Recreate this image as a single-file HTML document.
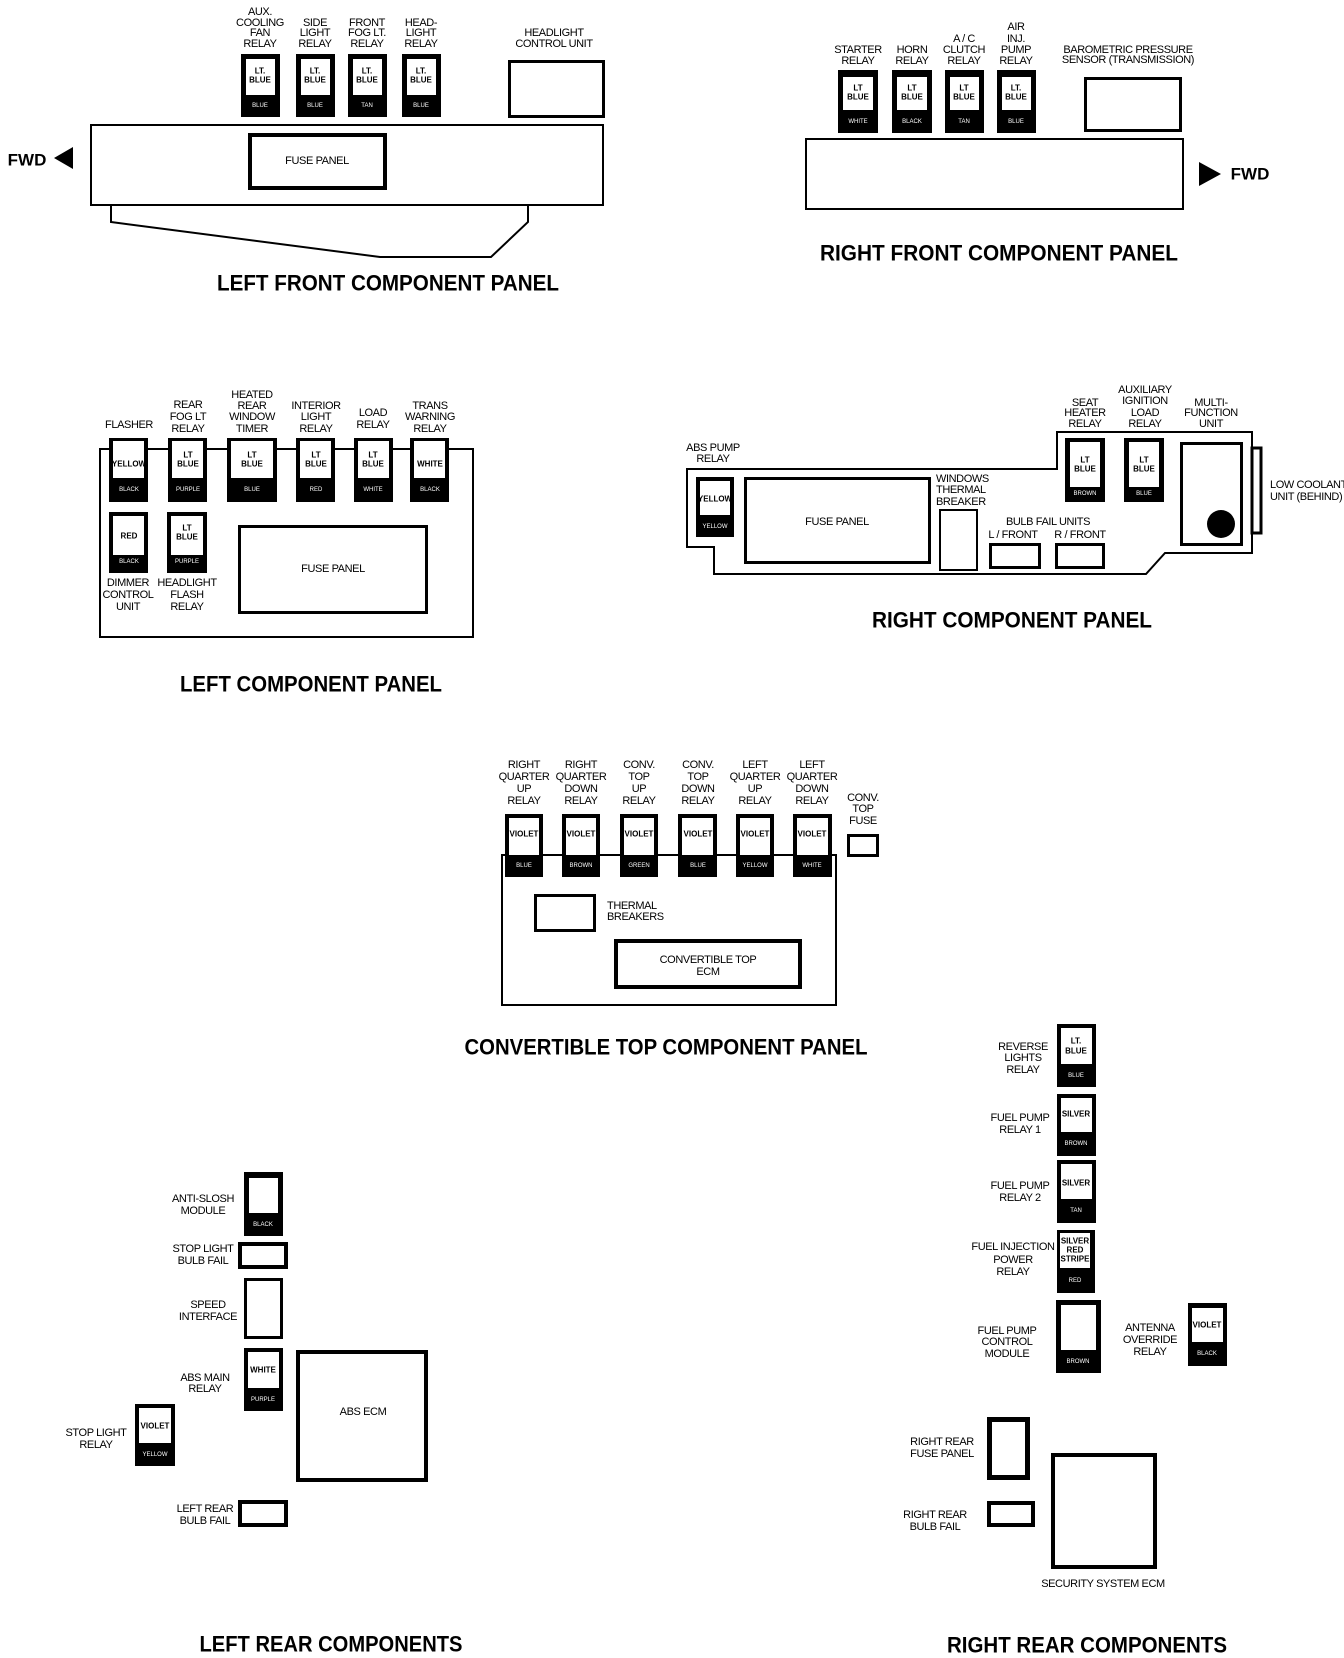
<!DOCTYPE html>
<html><head><meta charset="utf-8"><style>
html,body{margin:0;padding:0;background:#fff}
svg{display:block}
text{font-family:"Liberation Sans Narrow","Liberation Sans",sans-serif;fill:#000;dominant-baseline:central;text-anchor:middle}
.l{font-size:11px;letter-spacing:-0.4px}
.t{font-size:22px;font-weight:bold;font-family:"Liberation Sans",sans-serif}
.i{font-size:8px;font-weight:bold}
.w{font-size:6px;fill:#fff}
.b{fill:#000}
.o{fill:none;stroke:#000}
</style></head><body>
<svg width="1344" height="1658" viewBox="0 0 1344 1658" xmlns="http://www.w3.org/2000/svg">

<!-- LEFT FRONT -->
<g class="l">
<text x="260" y="12">AUX.</text><text x="260" y="23">COOLING</text><text x="260" y="33">FAN</text><text x="260" y="44">RELAY</text>
<text x="315" y="23">SIDE</text><text x="315" y="33">LIGHT</text><text x="315" y="44">RELAY</text>
<text x="367" y="23">FRONT</text><text x="367" y="33">FOG LT.</text><text x="367" y="44">RELAY</text>
<text x="421" y="23">HEAD-</text><text x="421" y="33">LIGHT</text><text x="421" y="44">RELAY</text>
<text x="554" y="33">HEADLIGHT</text><text x="554" y="44">CONTROL UNIT</text>
</g>
<rect class="b" x="241" y="54" width="39" height="63"/><rect fill="#fff" x="246" y="59" width="29" height="36"/>
<rect class="b" x="296" y="54" width="39" height="63"/><rect fill="#fff" x="301" y="59" width="29" height="36"/>
<rect class="b" x="348" y="54" width="39" height="63"/><rect fill="#fff" x="353" y="59" width="29" height="36"/>
<rect class="b" x="402" y="54" width="39" height="63"/><rect fill="#fff" x="407" y="59" width="29" height="36"/>
<text class="i" x="260" y="71">LT.</text><text class="i" x="260" y="80">BLUE</text><text class="w" x="260" y="106">BLUE</text>
<text class="i" x="315" y="71">LT.</text><text class="i" x="315" y="80">BLUE</text><text class="w" x="315" y="106">BLUE</text>
<text class="i" x="367" y="71">LT.</text><text class="i" x="367" y="80">BLUE</text><text class="w" x="367" y="106">TAN</text>
<text class="i" x="421" y="71">LT.</text><text class="i" x="421" y="80">BLUE</text><text class="w" x="421" y="106">BLUE</text>
<rect class="o" stroke-width="3" x="509.5" y="61.5" width="94" height="55"/>
<rect class="o" stroke-width="2" x="91" y="125" width="512" height="80"/>
<rect class="o" stroke-width="4" x="250" y="135" width="135" height="53"/>
<text class="l" x="317" y="161">FUSE PANEL</text>
<polyline class="o" stroke-width="2" points="111,205 111,222 380,257 491,257 528,222 528,205"/>
<text x="27" y="160" style="font-size:17px;font-weight:bold;font-family:'Liberation Sans',sans-serif">FWD</text>
<polygon class="b" points="54,158 73,147 73,169"/>
<text class="t" x="388" y="283" textLength="342" lengthAdjust="spacingAndGlyphs">LEFT FRONT COMPONENT PANEL</text>

<!-- RIGHT FRONT -->
<g class="l">
<text x="858" y="50">STARTER</text><text x="858" y="61">RELAY</text>
<text x="912" y="50">HORN</text><text x="912" y="61">RELAY</text>
<text x="964" y="39">A / C</text><text x="964" y="50">CLUTCH</text><text x="964" y="61">RELAY</text>
<text x="1016" y="27">AIR</text><text x="1016" y="39">INJ.</text><text x="1016" y="50">PUMP</text><text x="1016" y="61">RELAY</text>
<text x="1128" y="50">BAROMETRIC PRESSURE</text><text x="1128" y="60">SENSOR (TRANSMISSION)</text>
</g>
<rect class="b" x="838" y="70" width="40" height="63"/><rect fill="#fff" x="843" y="77" width="30" height="33"/>
<rect class="b" x="892" y="70" width="40" height="63"/><rect fill="#fff" x="897" y="77" width="30" height="33"/>
<rect class="b" x="945" y="70" width="39" height="63"/><rect fill="#fff" x="950" y="77" width="29" height="33"/>
<rect class="b" x="997" y="70" width="39" height="63"/><rect fill="#fff" x="1002" y="77" width="29" height="33"/>
<text class="i" x="858" y="88">LT</text><text class="i" x="858" y="97">BLUE</text><text class="w" x="858" y="122">WHITE</text>
<text class="i" x="912" y="88">LT</text><text class="i" x="912" y="97">BLUE</text><text class="w" x="912" y="122">BLACK</text>
<text class="i" x="964" y="88">LT</text><text class="i" x="964" y="97">BLUE</text><text class="w" x="964" y="122">TAN</text>
<text class="i" x="1016" y="88">LT.</text><text class="i" x="1016" y="97">BLUE</text><text class="w" x="1016" y="122">BLUE</text>
<rect class="o" stroke-width="3" x="1085.5" y="78.5" width="95" height="52"/>
<rect class="o" stroke-width="2" x="806" y="139" width="377" height="70"/>
<polygon class="b" points="1199,162 1221,174 1199,186"/>
<text x="1250" y="174" style="font-size:17px;font-weight:bold;font-family:'Liberation Sans',sans-serif">FWD</text>
<text class="t" x="999" y="253" textLength="358" lengthAdjust="spacingAndGlyphs">RIGHT FRONT COMPONENT PANEL</text>

<!-- LEFT COMPONENT PANEL -->
<rect class="o" stroke-width="2" x="100" y="449" width="373" height="188"/>
<g class="l">
<text x="129" y="425">FLASHER</text>
<text x="188" y="405">REAR</text><text x="188" y="417">FOG LT</text><text x="188" y="429">RELAY</text>
<text x="252" y="395">HEATED</text><text x="252" y="406">REAR</text><text x="252" y="417">WINDOW</text><text x="252" y="429">TIMER</text>
<text x="316" y="406">INTERIOR</text><text x="316" y="417">LIGHT</text><text x="316" y="429">RELAY</text>
<text x="373" y="413">LOAD</text><text x="373" y="425">RELAY</text>
<text x="430" y="406">TRANS</text><text x="430" y="417">WARNING</text><text x="430" y="429">RELAY</text>
<text x="128" y="583">DIMMER</text><text x="128" y="595">CONTROL</text><text x="128" y="607">UNIT</text>
<text x="187" y="583">HEADLIGHT</text><text x="187" y="595">FLASH</text><text x="187" y="607">RELAY</text>
</g>
<rect class="b" x="109" y="438" width="39" height="64"/><rect fill="#fff" x="113" y="441" width="31" height="37"/>
<rect class="b" x="168" y="438" width="39" height="64"/><rect fill="#fff" x="172" y="441" width="31" height="37"/>
<rect class="b" x="227" y="438" width="50" height="64"/><rect fill="#fff" x="231" y="441" width="42" height="37"/>
<rect class="b" x="296" y="438" width="39" height="64"/><rect fill="#fff" x="300" y="441" width="31" height="37"/>
<rect class="b" x="354" y="438" width="39" height="64"/><rect fill="#fff" x="358" y="441" width="31" height="37"/>
<rect class="b" x="410" y="438" width="39" height="64"/><rect fill="#fff" x="414" y="441" width="31" height="37"/>
<text class="i" x="129" y="464">YELLOW</text><text class="w" x="129" y="490">BLACK</text>
<text class="i" x="188" y="455">LT</text><text class="i" x="188" y="464">BLUE</text><text class="w" x="188" y="490">PURPLE</text>
<text class="i" x="252" y="455">LT</text><text class="i" x="252" y="464">BLUE</text><text class="w" x="252" y="490">BLUE</text>
<text class="i" x="316" y="455">LT</text><text class="i" x="316" y="464">BLUE</text><text class="w" x="316" y="490">RED</text>
<text class="i" x="373" y="455">LT</text><text class="i" x="373" y="464">BLUE</text><text class="w" x="373" y="490">WHITE</text>
<text class="i" x="430" y="464">WHITE</text><text class="w" x="430" y="490">BLACK</text>
<rect class="b" x="109" y="512" width="39" height="61"/><rect fill="#fff" x="113" y="516" width="31" height="39"/>
<rect class="b" x="167" y="512" width="40" height="61"/><rect fill="#fff" x="171" y="516" width="32" height="39"/>
<text class="i" x="129" y="536">RED</text><text class="w" x="129" y="562">BLACK</text>
<text class="i" x="187" y="528">LT</text><text class="i" x="187" y="537">BLUE</text><text class="w" x="187" y="562">PURPLE</text>
<rect class="o" stroke-width="3" x="239.5" y="526.5" width="187" height="86"/>
<text class="l" x="333" y="569">FUSE PANEL</text>
<text class="t" x="311" y="684" textLength="262" lengthAdjust="spacingAndGlyphs">LEFT COMPONENT PANEL</text>

<!-- RIGHT COMPONENT PANEL -->
<polygon class="o" stroke-width="2" points="687,469 687,547 714,547 714,574 1146,574 1165,553 1252,553 1252,432 1057,432 1057,469"/>
<g class="l">
<text x="713" y="448">ABS PUMP</text><text x="713" y="459">RELAY</text>
<text x="936" y="479" style="text-anchor:start">WINDOWS</text><text x="936" y="490" style="text-anchor:start">THERMAL</text><text x="936" y="502" style="text-anchor:start">BREAKER</text>
<text x="1048" y="522">BULB FAIL UNITS</text><text x="1013" y="535">L / FRONT</text><text x="1080" y="535">R / FRONT</text>
<text x="1085" y="403">SEAT</text><text x="1085" y="413">HEATER</text><text x="1085" y="424">RELAY</text>
<text x="1145" y="390">AUXILIARY</text><text x="1145" y="401">IGNITION</text><text x="1145" y="413">LOAD</text><text x="1145" y="424">RELAY</text>
<text x="1211" y="403">MULTI-</text><text x="1211" y="413">FUNCTION</text><text x="1211" y="424">UNIT</text>
<text x="1270" y="485" style="text-anchor:start">LOW COOLANT</text><text x="1270" y="497" style="text-anchor:start">UNIT (BEHIND)</text>
</g>
<rect class="b" x="696" y="477" width="38" height="60"/><rect fill="#fff" x="700" y="481" width="30" height="34"/>
<text class="i" x="715" y="499">YELLOW</text><text class="w" x="715" y="527">YELLOW</text>
<rect class="o" stroke-width="3" x="745.5" y="478.5" width="184" height="84"/>
<text class="l" x="837" y="522">FUSE PANEL</text>
<rect class="o" stroke-width="2" x="940" y="510" width="37" height="60"/>
<rect class="o" stroke-width="3" x="990.5" y="544.5" width="49" height="23"/>
<rect class="o" stroke-width="3" x="1056.5" y="544.5" width="47" height="23"/>
<rect class="b" x="1065" y="438" width="40" height="64"/><rect fill="#fff" x="1070" y="442" width="30" height="45"/>
<rect class="b" x="1124" y="438" width="40" height="64"/><rect fill="#fff" x="1129" y="442" width="30" height="45"/>
<text class="i" x="1085" y="460">LT</text><text class="i" x="1085" y="469">BLUE</text><text class="w" x="1085" y="494">BROWN</text>
<text class="i" x="1144" y="460">LT</text><text class="i" x="1144" y="469">BLUE</text><text class="w" x="1144" y="494">BLUE</text>
<rect class="o" stroke-width="3" x="1181.5" y="443.5" width="60" height="101"/>
<circle class="b" cx="1221" cy="524" r="14"/>
<rect class="o" stroke-width="3" x="1252" y="448" width="9" height="85"/>
<text class="t" x="1012" y="620" textLength="280" lengthAdjust="spacingAndGlyphs">RIGHT COMPONENT PANEL</text>

<!-- CONVERTIBLE TOP -->
<g class="l">
<text x="524" y="765">RIGHT</text><text x="524" y="777">QUARTER</text><text x="524" y="789">UP</text><text x="524" y="801">RELAY</text>
<text x="581" y="765">RIGHT</text><text x="581" y="777">QUARTER</text><text x="581" y="789">DOWN</text><text x="581" y="801">RELAY</text>
<text x="639" y="765">CONV.</text><text x="639" y="777">TOP</text><text x="639" y="789">UP</text><text x="639" y="801">RELAY</text>
<text x="698" y="765">CONV.</text><text x="698" y="777">TOP</text><text x="698" y="789">DOWN</text><text x="698" y="801">RELAY</text>
<text x="755" y="765">LEFT</text><text x="755" y="777">QUARTER</text><text x="755" y="789">UP</text><text x="755" y="801">RELAY</text>
<text x="812" y="765">LEFT</text><text x="812" y="777">QUARTER</text><text x="812" y="789">DOWN</text><text x="812" y="801">RELAY</text>
<text x="863" y="798">CONV.</text><text x="863" y="809">TOP</text><text x="863" y="821">FUSE</text>
<text x="607" y="906" style="text-anchor:start">THERMAL</text><text x="607" y="917" style="text-anchor:start">BREAKERS</text>
<text x="708" y="960">CONVERTIBLE TOP</text><text x="708" y="972">ECM</text>
</g>
<rect class="o" stroke-width="2" x="502" y="855" width="334" height="150"/>
<rect class="b" x="505" y="814" width="38" height="63"/><rect fill="#fff" x="509" y="818" width="30" height="37"/>
<rect class="b" x="562" y="814" width="38" height="63"/><rect fill="#fff" x="566" y="818" width="30" height="37"/>
<rect class="b" x="620" y="814" width="38" height="63"/><rect fill="#fff" x="624" y="818" width="30" height="37"/>
<rect class="b" x="678" y="814" width="39" height="63"/><rect fill="#fff" x="682" y="818" width="31" height="37"/>
<rect class="b" x="736" y="814" width="38" height="63"/><rect fill="#fff" x="740" y="818" width="30" height="37"/>
<rect class="b" x="793" y="814" width="39" height="63"/><rect fill="#fff" x="797" y="818" width="31" height="37"/>
<text class="i" x="524" y="834">VIOLET</text><text class="w" x="524" y="866">BLUE</text>
<text class="i" x="581" y="834">VIOLET</text><text class="w" x="581" y="866">BROWN</text>
<text class="i" x="639" y="834">VIOLET</text><text class="w" x="639" y="866">GREEN</text>
<text class="i" x="698" y="834">VIOLET</text><text class="w" x="698" y="866">BLUE</text>
<text class="i" x="755" y="834">VIOLET</text><text class="w" x="755" y="866">YELLOW</text>
<text class="i" x="812" y="834">VIOLET</text><text class="w" x="812" y="866">WHITE</text>
<rect class="o" stroke-width="3" x="848.5" y="835.5" width="29" height="20"/>
<rect class="o" stroke-width="3" x="535.5" y="895.5" width="59" height="35"/>
<rect class="o" stroke-width="4" x="616" y="941" width="184" height="46"/>
<text class="t" x="666" y="1047" textLength="403" lengthAdjust="spacingAndGlyphs">CONVERTIBLE TOP COMPONENT PANEL</text>

<!-- LEFT REAR -->
<g class="l">
<text x="203" y="1199">ANTI-SLOSH</text><text x="203" y="1211">MODULE</text>
<text x="203" y="1249">STOP LIGHT</text><text x="203" y="1261">BULB FAIL</text>
<text x="208" y="1305">SPEED</text><text x="208" y="1317">INTERFACE</text>
<text x="205" y="1378">ABS MAIN</text><text x="205" y="1389">RELAY</text>
<text x="96" y="1433">STOP LIGHT</text><text x="96" y="1445">RELAY</text>
<text x="205" y="1509">LEFT REAR</text><text x="205" y="1521">BULB FAIL</text>
<text x="363" y="1412">ABS ECM</text>
</g>
<rect class="b" x="244" y="1172" width="39" height="64"/><rect fill="#fff" x="249" y="1178" width="29" height="35"/>
<text class="w" x="263" y="1225">BLACK</text>
<rect class="o" stroke-width="4" x="240" y="1244" width="46" height="23"/>
<rect class="o" stroke-width="3" x="245.5" y="1279.5" width="36" height="58"/>
<rect class="b" x="244" y="1348" width="39" height="63"/><rect fill="#fff" x="248" y="1352" width="31" height="36"/>
<text class="i" x="263" y="1370">WHITE</text><text class="w" x="263" y="1400">PURPLE</text>
<rect class="o" stroke-width="4" x="298" y="1352" width="128" height="128"/>
<rect class="b" x="135" y="1404" width="40" height="62"/><rect fill="#fff" x="139" y="1408" width="32" height="35"/>
<text class="i" x="155" y="1426">VIOLET</text><text class="w" x="155" y="1455">YELLOW</text>
<rect class="o" stroke-width="4" x="240" y="1502" width="46" height="23"/>
<text class="t" x="331" y="1644" textLength="263" lengthAdjust="spacingAndGlyphs">LEFT REAR COMPONENTS</text>

<!-- RIGHT REAR -->
<g class="l">
<text x="1023" y="1047">REVERSE</text><text x="1023" y="1058">LIGHTS</text><text x="1023" y="1070">RELAY</text>
<text x="1020" y="1118">FUEL PUMP</text><text x="1020" y="1130">RELAY 1</text>
<text x="1020" y="1186">FUEL PUMP</text><text x="1020" y="1198">RELAY 2</text>
<text x="1013" y="1247">FUEL INJECTION</text><text x="1013" y="1260">POWER</text><text x="1013" y="1272">RELAY</text>
<text x="1007" y="1331">FUEL PUMP</text><text x="1007" y="1342">CONTROL</text><text x="1007" y="1354">MODULE</text>
<text x="1150" y="1328">ANTENNA</text><text x="1150" y="1340">OVERRIDE</text><text x="1150" y="1352">RELAY</text>
<text x="942" y="1442">RIGHT REAR</text><text x="942" y="1454">FUSE PANEL</text>
<text x="935" y="1515">RIGHT REAR</text><text x="935" y="1527">BULB FAIL</text>
<text x="1103" y="1584">SECURITY SYSTEM ECM</text>
</g>
<rect class="b" x="1057" y="1024" width="39" height="63"/><rect fill="#fff" x="1061" y="1028" width="31" height="36"/>
<text class="i" x="1076" y="1041">LT.</text><text class="i" x="1076" y="1051">BLUE</text><text class="w" x="1076" y="1076">BLUE</text>
<rect class="b" x="1057" y="1094" width="39" height="62"/><rect fill="#fff" x="1061" y="1098" width="31" height="34"/>
<text class="i" x="1076" y="1114">SILVER</text><text class="w" x="1076" y="1144">BROWN</text>
<rect class="b" x="1057" y="1160" width="39" height="63"/><rect fill="#fff" x="1061" y="1164" width="31" height="35"/>
<text class="i" x="1076" y="1183">SILVER</text><text class="w" x="1076" y="1211">TAN</text>
<rect class="b" x="1057" y="1230" width="38" height="63"/><rect fill="#fff" x="1060" y="1233" width="30" height="35"/>
<text class="i" x="1075" y="1241">SILVER</text><text class="i" x="1075" y="1250">RED</text><text class="i" x="1075" y="1259">STRIPE</text><text class="w" x="1075" y="1281">RED</text>
<rect class="b" x="1056" y="1300" width="45" height="73"/><rect fill="#fff" x="1061" y="1305" width="35" height="45"/>
<text class="w" x="1078" y="1362">BROWN</text>
<rect class="b" x="1188" y="1303" width="39" height="63"/><rect fill="#fff" x="1192" y="1308" width="31" height="34"/>
<text class="i" x="1207" y="1325">VIOLET</text><text class="w" x="1207" y="1354">BLACK</text>
<rect class="o" stroke-width="5" x="989.5" y="1419.5" width="38" height="58"/>
<rect class="o" stroke-width="4" x="989" y="1503" width="44" height="22"/>
<rect class="o" stroke-width="4" x="1053" y="1455" width="102" height="112"/>
<text class="t" x="1087" y="1645" textLength="280" lengthAdjust="spacingAndGlyphs">RIGHT REAR COMPONENTS</text>
</svg>
</body></html>
